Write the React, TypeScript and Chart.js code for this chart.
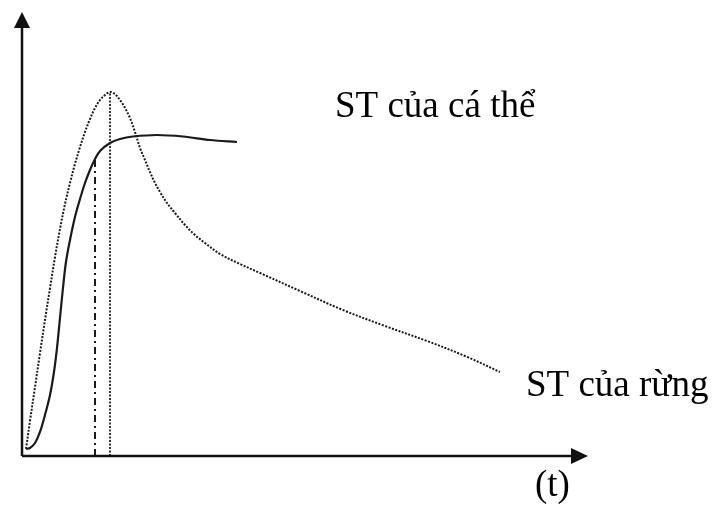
import React, { useEffect, useRef } from "react";
import { Chart, registerables } from "chart.js";

Chart.register(...registerables);

// Time axis (arbitrary units) and productivity (ST) of the forest stand
const forestT = [0.71, 1.41, 2.30, 3.18, 4.06, 4.95, 5.83, 6.71, 7.60, 8.48, 9.36, 10.25, 11.13, 12.01, 12.90, 13.78, 14.66, 15.55, 16.43, 17.31, 18.20, 19.08, 19.96, 20.85, 21.73, 22.61, 23.50, 24.38, 25.62, 27.03, 28.80, 30.57, 32.33, 34.98, 38.52, 42.05, 49.12, 56.71, 64.13, 71.55, 78.27, 84.45];
const forestST = [1.58, 7.88, 15.54, 23.20, 30.63, 37.84, 44.82, 51.13, 56.76, 61.49, 65.77, 69.59, 72.97, 75.90, 78.38, 80.18, 81.31, 81.98, 81.53, 80.18, 78.38, 76.13, 72.97, 69.37, 66.67, 63.96, 61.49, 59.46, 56.98, 54.73, 52.03, 49.77, 47.97, 45.50, 43.24, 41.22, 37.16, 32.88, 29.28, 25.90, 22.52, 18.92];

// Productivity (ST) of an individual tree
const treeT = [0.71, 1.41, 2.30, 3.18, 4.06, 4.95, 5.65, 6.18, 6.71, 7.24, 7.77, 8.48, 9.36, 10.25, 11.13, 12.01, 12.90, 13.78, 15.55, 17.31, 19.61, 23.85, 28.45, 33.22, 37.99];
const treeST = [1.58, 1.80, 2.93, 5.41, 9.23, 13.74, 18.92, 24.32, 31.08, 37.84, 43.69, 48.65, 53.83, 57.88, 61.49, 64.41, 66.89, 68.69, 70.50, 71.40, 71.96, 72.30, 71.96, 71.17, 70.72];

// Guide lines: where the tree curve bends, and the forest peak
const turnT = 12.9;
const turnST = 66.9;
const peakT = 15.55;
const peakST = 81.98;

const treeLabel = "ST của cá thể";
const forestLabel = "ST của rừng";
const timeLabel = "(t)";

const toPoints = (xs: number[], ys: number[]) => xs.map((x, i) => ({ x, y: ys[i] }));

const axesPlugin = {
  id: "arrowAxes",
  afterDraw(chart: any) {
    const { ctx, scales } = chart;
    const xs = scales.x;
    const ys = scales.y;
    const ox = xs.getPixelForValue(0);
    const oy = ys.getPixelForValue(0);
    const xEnd = xs.getPixelForValue(100);
    const yEnd = ys.getPixelForValue(100);
    ctx.save();
    ctx.strokeStyle = "#111";
    ctx.fillStyle = "#111";
    ctx.lineWidth = 2.5;
    ctx.beginPath();
    ctx.moveTo(ox, oy);
    ctx.lineTo(ox, yEnd + 14);
    ctx.moveTo(ox, oy);
    ctx.lineTo(xEnd - 14, oy);
    ctx.stroke();
    // arrow heads
    ctx.beginPath();
    ctx.moveTo(ox, yEnd);
    ctx.lineTo(ox - 8, yEnd + 16);
    ctx.lineTo(ox + 8, yEnd + 16);
    ctx.closePath();
    ctx.fill();
    ctx.beginPath();
    ctx.moveTo(xEnd, oy);
    ctx.lineTo(xEnd - 17, oy - 8);
    ctx.lineTo(xEnd - 17, oy + 8);
    ctx.closePath();
    ctx.fill();

    // labels
    ctx.fillStyle = "#000";
    ctx.font = '37px "Liberation Serif", "Times New Roman", serif';
    ctx.textBaseline = "alphabetic";
    ctx.textAlign = "left";
    const tEndX = xs.getPixelForValue(treeT[treeT.length - 1]);
    const tEndY = ys.getPixelForValue(treeST[treeST.length - 1]);
    ctx.fillText(treeLabel, tEndX + 98, tEndY - 25);
    const fEndX = xs.getPixelForValue(forestT[forestT.length - 1]);
    const fEndY = ys.getPixelForValue(forestST[forestST.length - 1]);
    ctx.fillText(forestLabel, fEndX + 26, fEndY + 24);
    ctx.fillText(timeLabel, xEnd - 53, oy + 40);
    ctx.restore();
  },
};

export default function App() {
  const canvasRef = useRef<HTMLCanvasElement | null>(null);

  useEffect(() => {
    if (!canvasRef.current) return;
    const chart = new Chart(canvasRef.current, {
      type: "line",
      data: {
        datasets: [
          {
            label: forestLabel,
            data: toPoints(forestT, forestST),
            borderColor: "#1a1a1a",
            borderWidth: 2,
            borderDash: [2, 1.5],
            pointRadius: 0,
            tension: 0.35,
          },
          {
            label: treeLabel,
            data: toPoints(treeT, treeST),
            borderColor: "#1a1a1a",
            borderWidth: 2.2,
            pointRadius: 0,
            tension: 0.35,
          },
          {
            label: "turn",
            data: [
              { x: turnT, y: 0 },
              { x: turnT, y: turnST },
            ],
            borderColor: "#1a1a1a",
            borderWidth: 2,
            borderDash: [7, 4, 2, 4],
            pointRadius: 0,
          },
          {
            label: "peak",
            data: [
              { x: peakT, y: 0 },
              { x: peakT, y: peakST },
            ],
            borderColor: "#222",
            borderWidth: 1.8,
            borderDash: [2, 1.5],
            pointRadius: 0,
          },
        ],
      },
      options: {
        responsive: false,
        animation: false,
        devicePixelRatio: 1,
        layout: { padding: { left: 22, right: 125, top: 12, bottom: 50 } },
        scales: {
          x: { type: "linear", min: 0, max: 100, display: false },
          y: { type: "linear", min: 0, max: 100, display: false },
        },
        plugins: { legend: { display: false }, tooltip: { enabled: false } },
      },
      plugins: [axesPlugin],
    });
    return () => chart.destroy();
  }, []);

  return (
    <div style={{ position: "fixed", left: 0, top: 0, width: 713, height: 506, background: "#fff" }}>
      <canvas ref={canvasRef} width={713} height={506} />
    </div>
  );
}
